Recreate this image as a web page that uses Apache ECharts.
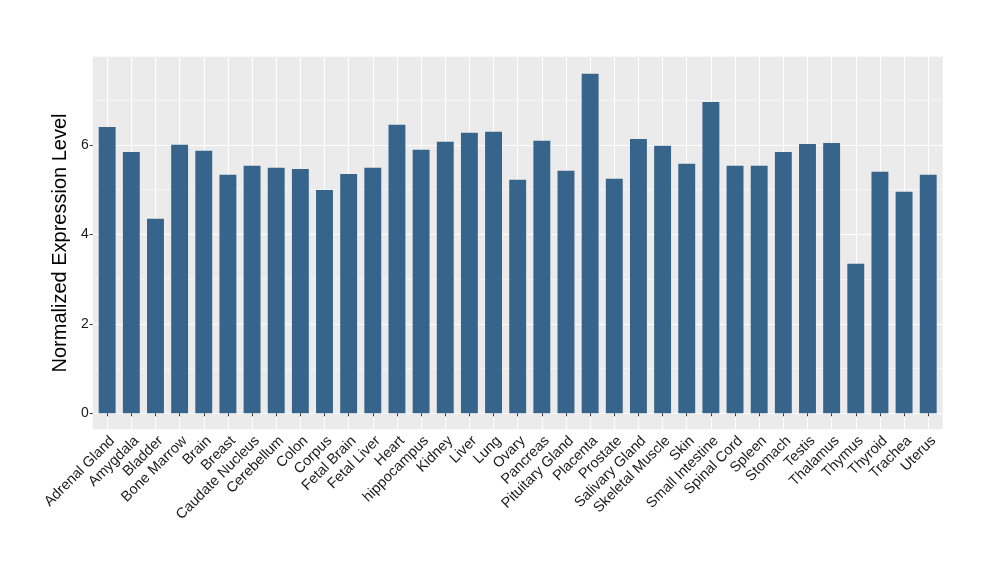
<!DOCTYPE html>
<html><head><meta charset="utf-8">
<script src="https://cdn.jsdelivr.net/npm/echarts@6/dist/echarts.min.js"></script>
<style>html,body{margin:0;padding:0;background:#fff}#c{width:1000px;height:580px}</style>
</head><body><div id="c"></div>
<script>
const categories = ["Adrenal Gland","Amygdala","Bladder","Bone Marrow","Brain","Breast","Caudate Nucleus","Cerebellum","Colon","Corpus","Fetal Brain","Fetal Liver","Heart","hippocampus","Kidney","Liver","Lung","Ovary","Pancreas","Pituitary Gland","Placenta","Prostate","Salivary Gland","Skeletal Muscle","Skin","Small Intestine","Spinal Cord","Spleen","Stomach","Testis","Thalamus","Thymus","Thyroid","Trachea","Uterus"];
const values = [6.40,5.84,4.35,6.00,5.87,5.33,5.53,5.49,5.46,4.99,5.35,5.49,6.45,5.89,6.07,6.27,6.29,5.22,6.09,5.42,7.59,5.24,6.13,5.98,5.58,6.96,5.53,5.53,5.84,6.02,6.04,3.34,5.40,4.95,5.33];
const yTickLabels = [0,2,4,6];
const yMin = -0.358, yMax = 7.97;

const font = "'Liberation Sans', Arial, sans-serif";
const chart = echarts.init(document.getElementById('c'), null, {renderer:'canvas'});
chart.setOption({
  animation:false,
  backgroundColor:'#ffffff',
  grid:[
    {left:92.7, right:57.3, top:56.7, bottom:150.7, show:true, backgroundColor:'#EBEBEB', borderWidth:0},
    {left:95.1, right:59.7, top:56.7, bottom:150.7}
  ],
  xAxis:[
    {type:'value', gridIndex:0, min:0, max:1, show:false},
    {type:'category', gridIndex:1, data:categories,
     axisLine:{show:false},
     axisTick:{show:true, alignWithLabel:true, length:3, lineStyle:{color:'#333333', width:1}},
     splitLine:{show:true, alignWithLabel:true, lineStyle:{color:'#ffffff', width:1.07}},
     axisLabel:{interval:0, rotate:45, fontSize:14.5, color:'#1a1a1a', fontFamily:font, margin:4, verticalAlign:'top'}
    }
  ],
  yAxis:[
    {type:'value', gridIndex:0, min:yMin, max:yMax,
     name:'Normalized Expression Level', nameLocation:'middle', nameGap:10,
     nameTextStyle:{fontSize:20, color:'#000000', fontFamily:font},
     axisLine:{show:false},
     axisTick:{show:true, length:3, customValues:yTickLabels, lineStyle:{color:'#333333', width:1}},
     axisLabel:{fontSize:14, color:'#1a1a1a', fontFamily:font, margin:4, customValues:yTickLabels},
     splitLine:{show:true, lineStyle:{color:'#ffffff', width:1.07}},
     minorTick:{show:false, splitNumber:2},
     minorSplitLine:{show:true, lineStyle:{color:'#ffffff', width:0.53}}
    },
    {type:'value', gridIndex:1, min:yMin, max:yMax, show:false, splitLine:{show:false}}
  ],
  series:[{
    type:'bar', xAxisIndex:1, yAxisIndex:1, data:values, barWidth:'70%',
    itemStyle:{color:'#36648B'}
  }]
});
</script></body></html>
